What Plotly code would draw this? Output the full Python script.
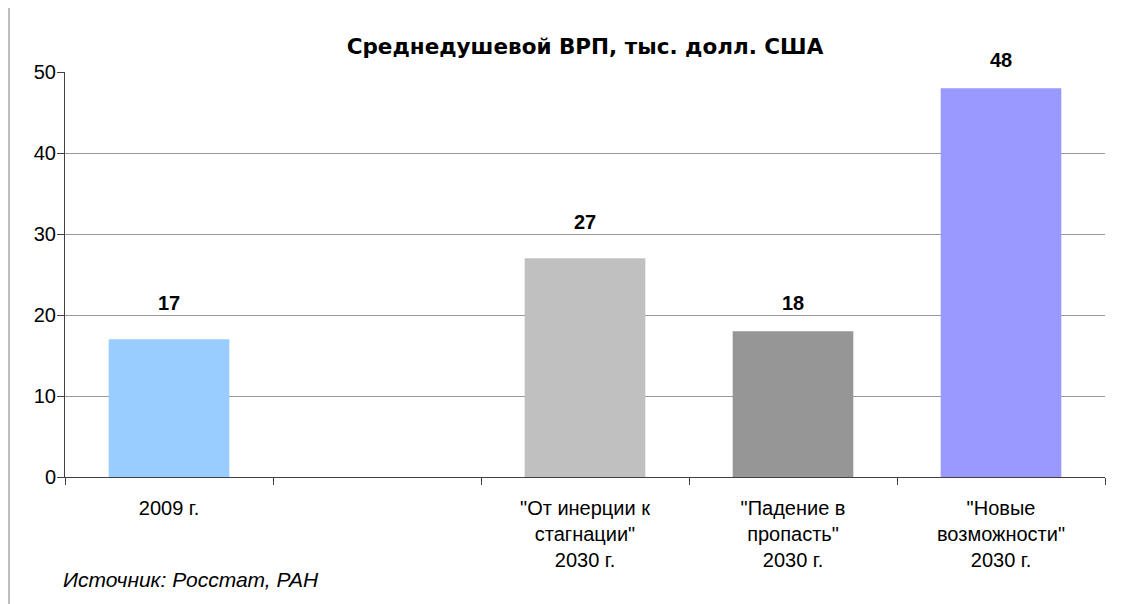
import math
import plotly.graph_objects as go

categories = ['base', 'gap', 'inertia', 'fall', 'new']
tick_labels = ['2009 г.', '', '"От инерции к<br>стагнации"<br>2030 г.',
               '"Падение в<br>пропасть"<br>2030 г.', '"Новые<br>возможности"<br>2030 г.']
values = [17, None, 27, 18, 48]
colors = ['#99CCFF', '#FFFFFF', '#C0C0C0', '#969696', '#9999FF']

title = 'Среднедушевой ВРП, тыс. долл. США'
source = 'Источник: Росстат, РАН'

font = 'Liberation Sans, Arial, sans-serif'

fig = go.Figure()
fig.add_trace(go.Bar(x=categories, y=[v if v is not None else 0 for v in values],
                     marker=dict(color=colors, line=dict(width=0)),
                     width=0.58, hoverinfo='skip'))

# value labels sit on the next gridline above each bar, like the original
for c, v in zip(categories, values):
    if v is None:
        continue
    fig.add_annotation(x=c, y=math.ceil(v / 10) * 10, text=f'<b>{v}</b>',
                       showarrow=False, yanchor='bottom', yshift=-1,
                       font=dict(family=font, size=20, color='black'))

fig.add_annotation(text=source, xref='paper', yref='paper', x=-0.004, y=-0.254,
                   xanchor='left', yanchor='middle', showarrow=False,
                   font=dict(family=font, size=21, color='black', style='italic'))

# frame line at the left edge of the picture
fig.add_shape(type='line', xref='paper', yref='paper', x0=-0.0538, x1=-0.0538,
              y0=-0.32, y1=1.18, line=dict(color='#A8A8A8', width=1.5))

# page body has an 8px margin, so the figure is shrunk by that much
fig.update_layout(
    width=1135, height=596,
    margin=dict(l=57, r=38, t=64, b=127),
    paper_bgcolor='white', plot_bgcolor='white',
    showlegend=False,
    title=dict(text=f'<b>{title}</b>', x=0.5, xref='paper', xanchor='center',
               y=1 - 38 / 596, yanchor='middle',
               font=dict(family='DejaVu Sans, sans-serif', size=21.5, color='black')),
    xaxis=dict(type='category', tickmode='array', tickvals=categories, ticktext=tick_labels,
               tickson='boundaries', ticks='outside', ticklen=7, tickcolor='#404040',
               showline=True, linecolor='#404040', linewidth=1, showgrid=False,
               ticklabelstandoff=13, tickangle=0,
               tickfont=dict(family=font, size=20, color='black')),
    yaxis=dict(range=[0, 50], dtick=10, ticks='outside', ticklen=7, tickcolor='#404040',
               showline=True, linecolor='#404040', linewidth=1,
               showgrid=True, gridcolor='#9A9A9A', gridwidth=1, zeroline=False,
               ticklabelstandoff=-3,
               tickfont=dict(family=font, size=20, color='black')),
)

fig.write_html('out.html')
